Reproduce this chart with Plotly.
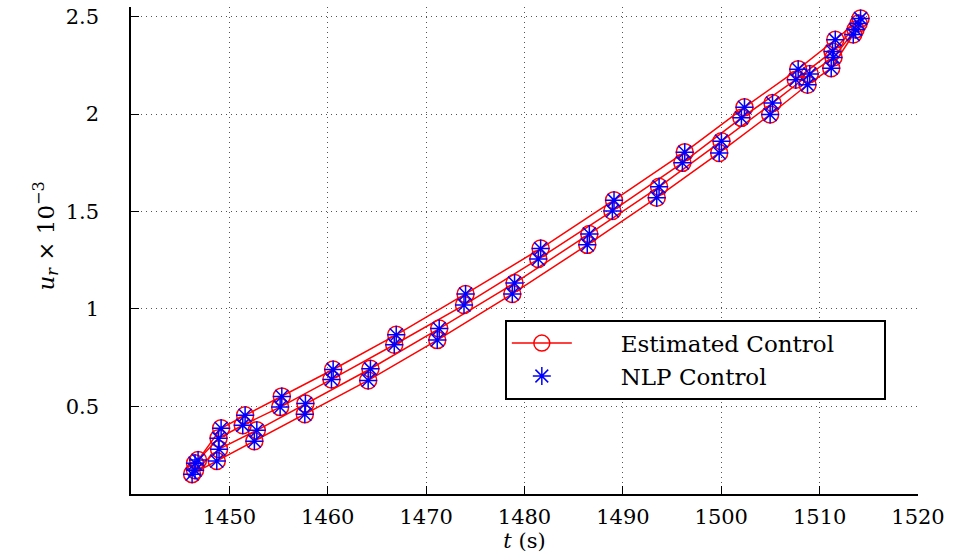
import plotly.graph_objects as go

# Estimated control: four receding-horizon branches (t in s, u_r x 1e-3)
t1 = [1446.82, 1449.16, 1451.60, 1455.33, 1460.55, 1466.96, 1474.01, 1481.64, 1489.10, 1496.29, 1502.36, 1507.82, 1511.59, 1514.16]
u1 = [0.224, 0.387, 0.454, 0.551, 0.689, 0.867, 1.077, 1.310, 1.558, 1.805, 2.035, 2.231, 2.382, 2.491]
t2 = [1446.51, 1448.90, 1451.36, 1455.16, 1460.38, 1466.76, 1473.85, 1481.40, 1488.93, 1496.05, 1502.05, 1507.58, 1511.31, 1513.96]
u2 = [0.208, 0.336, 0.403, 0.496, 0.638, 0.816, 1.020, 1.256, 1.503, 1.750, 1.981, 2.177, 2.322, 2.465]
t3 = [1446.51, 1448.95, 1452.79, 1457.73, 1464.34, 1471.33, 1478.99, 1486.59, 1493.68, 1500.02, 1505.21, 1509.00, 1511.41, 1513.65]
u3 = [0.172, 0.280, 0.377, 0.514, 0.693, 0.899, 1.133, 1.385, 1.627, 1.861, 2.057, 2.206, 2.291, 2.434]
t4 = [1446.21, 1448.72, 1452.54, 1457.67, 1464.11, 1471.13, 1478.76, 1486.38, 1493.44, 1499.79, 1504.97, 1508.77, 1511.18, 1513.42]
u4 = [0.152, 0.219, 0.321, 0.459, 0.633, 0.840, 1.077, 1.329, 1.571, 1.801, 1.998, 2.151, 2.236, 2.409]

# NLP control samples (coincide with the estimated control samples)
t_nlp = t1 + t2 + t3 + t4
u_nlp = u1 + u2 + u3 + u4

x_ticks = [1450, 1460, 1470, 1480, 1490, 1500, 1510, 1520]
y_ticks = [0.5, 1, 1.5, 2, 2.5]
y_tick_text = ["0.5", "1", "1.5", "2", "2.5"]

FONT = "DejaVu Serif"
PAD = "&nbsp;" * 6

fig = go.Figure()
for i, (t, u) in enumerate([(t1, u1), (t2, u2), (t3, u3), (t4, u4)]):
    fig.add_trace(go.Scatter(
        x=t, y=u, mode="lines+markers",
        line=dict(color="#ff0000", width=1.5),
        marker=dict(symbol="circle-open", size=17, color="#ff0000", line=dict(width=1.5, color="#ff0000")),
        name=PAD + "Estimated Control" + PAD, showlegend=(i == 0),
    ))
fig.add_trace(go.Scatter(
    x=t_nlp, y=u_nlp, mode="markers",
    marker=dict(symbol="asterisk-open", size=15, color="#0000ff", line=dict(width=1.5, color="#0000ff")),
    name=PAD + "NLP Control",
))

grid_dash = "1px,4px"
fig.update_layout(
    width=953, height=554,
    margin=dict(l=131, r=35, t=5, b=60),
    paper_bgcolor="white", plot_bgcolor="white",
    font=dict(family=FONT, size=21, color="black"),
    showlegend=True,
    legend=dict(
        x=0.475, y=0.358, xanchor="left", yanchor="top",
        bgcolor="white", bordercolor="black", borderwidth=2,
        font=dict(family=FONT, size=23, color="black"),
        itemwidth=60, tracegroupgap=0,
    ),
    xaxis=dict(
        range=[1440, 1520], tickvals=x_ticks, ticktext=[str(v) for v in x_ticks],
        showline=True, linecolor="black", linewidth=1.5, mirror=False,
        ticks="inside", ticklen=8, tickcolor="black",
        showgrid=True, gridcolor="#555555", gridwidth=1, griddash=grid_dash,
        zeroline=False, ticklabelstandoff=3,
        title=dict(text="<i>t</i> (s)", font=dict(family=FONT, size=21), standoff=0),
    ),
    yaxis=dict(
        range=[0.05, 2.55], tickvals=y_ticks, ticktext=y_tick_text,
        showline=True, linecolor="black", linewidth=1.5, mirror=False,
        ticks="inside", ticklen=8, tickcolor="black",
        showgrid=True, gridcolor="#555555", gridwidth=1, griddash=grid_dash,
        zeroline=False, ticklabelstandoff=26,
        title=dict(text="&nbsp;&nbsp;&nbsp;&nbsp;<i>u<sub>r</sub></i> × 10<sup>−3</sup>", font=dict(family=FONT, size=23), standoff=5),
    ),
)

fig.write_html("out.html")
